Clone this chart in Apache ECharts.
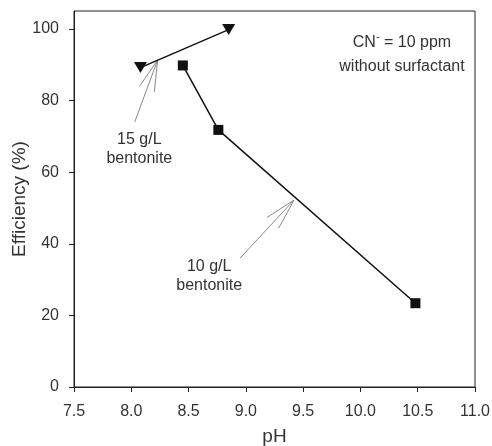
<!DOCTYPE html>
<html>
<head>
<meta charset="utf-8">
<script src="https://cdn.jsdelivr.net/npm/echarts@6/dist/echarts.min.js"></script>
<style>
  html, body { margin: 0; padding: 0; background: #fff; }
  #chart { width: 492px; height: 446px; }
</style>
</head>
<body>
<div id="chart"></div>
<script>
// 15 g/L bentonite (triangles)
var ph15 = [8.08, 8.85];
var eff15 = [89.2, 99.8];
// 10 g/L bentonite (squares)
var ph10 = [8.45, 8.76, 10.48];
var eff10 = [89.8, 71.8, 23.4];

// annotation arrows in data units: [tailX, tailY, tipX, tipY]
var arrow15 = [8.03, 74, 8.23, 91.3];
var arrow10 = [8.95, 36, 9.42, 52.2];

var font = 'Liberation Sans, Arial, sans-serif';
var chart = echarts.init(document.getElementById('chart'));

function pairs(xs, ys) {
  return xs.map(function (x, i) { return [x, ys[i]]; });
}

var option = {
  animation: false,
  textStyle: { fontFamily: font },
  grid: {
    left: 74, right: 17, top: 11, bottom: 59,
    containLabel: false, outerBoundsMode: 'none',
    show: true, borderColor: '#222', borderWidth: 1
  },
  xAxis: {
    type: 'value', min: 7.5, max: 11, interval: 0.5,
    name: 'pH', nameLocation: 'middle', nameGap: 40, nameMoveOverlap: false,
    nameTextStyle: { fontSize: 19, color: '#333', fontFamily: font },
    axisLine: { lineStyle: { color: '#222' } },
    axisTick: { show: true, length: 5, lineStyle: { color: '#222' } },
    axisLabel: {
      fontSize: 16, color: '#333', margin: 17, fontFamily: font,
      formatter: function (v) { return v.toFixed(1); }
    },
    splitLine: { show: false }
  },
  yAxis: {
    type: 'value', min: 0, max: 105, interval: 20,
    name: 'Efficiency (%)', nameLocation: 'middle', nameGap: 45, nameMoveOverlap: false,
    nameTextStyle: { fontSize: 19, color: '#333', fontFamily: font },
    axisLine: { show: true, lineStyle: { color: '#222' } },
    axisTick: { show: true, length: 5, lineStyle: { color: '#222' } },
    axisLabel: {
      fontSize: 16, color: '#333', margin: 15, fontFamily: font, showMaxLabel: false,
      formatter: function (v) { return v % 20 === 0 ? String(v) : ''; }
    },
    splitLine: { show: false }
  },
  series: [
    {
      name: '15 g/L', type: 'line', data: pairs(ph15, eff15),
      symbol: 'triangle', symbolRotate: 180, symbolSize: [13, 11],
      lineStyle: { color: '#111', width: 1.5 },
      itemStyle: { color: '#111' }
    },
    {
      name: '10 g/L', type: 'line', data: pairs(ph10, eff10),
      symbol: 'rect', symbolSize: 10,
      lineStyle: { color: '#111', width: 1.5 },
      itemStyle: { color: '#111' }
    }
  ]
};
chart.setOption(option);

function arrowShapes(a) {
  var p0 = chart.convertToPixel({ gridIndex: 0 }, [a[0], a[1]]);
  var p1 = chart.convertToPixel({ gridIndex: 0 }, [a[2], a[3]]);
  var ang = Math.atan2(p0[1] - p1[1], p0[0] - p1[0]);
  var len = 32, spread = 0.25;
  var h1 = [p1[0] + len * Math.cos(ang + spread), p1[1] + len * Math.sin(ang + spread)];
  var h2 = [p1[0] + len * Math.cos(ang - spread), p1[1] + len * Math.sin(ang - spread)];
  var st = { stroke: '#888', lineWidth: 1, fill: null };
  return [
    { type: 'line', shape: { x1: p0[0], y1: p0[1], x2: p1[0], y2: p1[1] }, style: st },
    { type: 'line', shape: { x1: h1[0], y1: h1[1], x2: p1[0], y2: p1[1] }, style: st },
    { type: 'line', shape: { x1: h2[0], y1: h2[1], x2: p1[0], y2: p1[1] }, style: st }
  ];
}

function label(x, y, txt) {
  var p = chart.convertToPixel({ gridIndex: 0 }, [x, y]);
  return {
    type: 'text', x: p[0], y: p[1],
    style: {
      text: txt, fill: '#333', font: '16px ' + font,
      align: 'center', verticalAlign: 'middle', lineHeight: 19
    }
  };
}

var g = [].concat(
  arrowShapes(arrow15),
  arrowShapes(arrow10),
  [
    label(8.07, 66.5, '15 g/L\nbentonite'),
    label(8.68, 31, '10 g/L\nbentonite'),
    {
      type: 'text', x: 402, y: 55,
      style: {
        text: 'CN{sup|-} = 10 ppm\nwithout surfactant',
        rich: { sup: { fontSize: 11, verticalAlign: 'top', padding: [0, 0, 8, 0] } },
        fill: '#333', font: '16px ' + font,
        align: 'center', verticalAlign: 'middle', lineHeight: 24
      }
    }
  ]
);
chart.setOption({ graphic: g });
</script>
</body>
</html>
